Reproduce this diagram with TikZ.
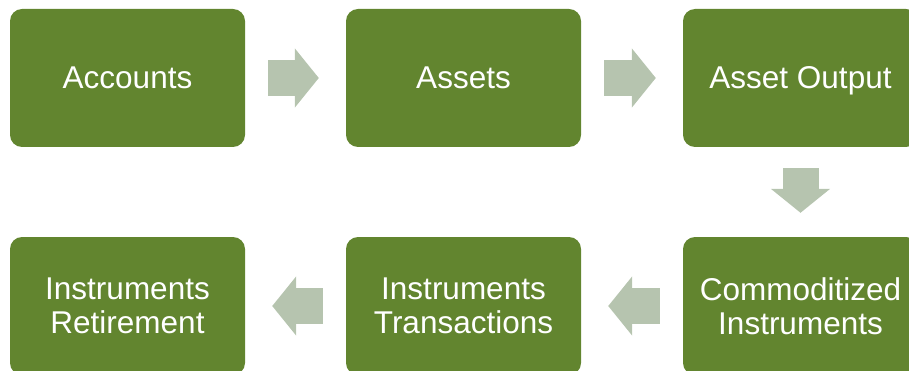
\documentclass[tikz,border=0pt]{standalone}
\usepackage{fontspec}
\setmainfont{Liberation Sans}
\usepackage{tikz}
\usetikzlibrary{arrows.meta}
\definecolor{boxgreen}{RGB}{98,133,47}
\definecolor{arrowgrey}{RGB}{182,196,175}

\begin{document}
\begin{tikzpicture}[x=1pt,y=-1pt,
  stage/.style={fill=boxgreen,draw=none,rounded corners=12pt,minimum width=235pt,minimum height=138pt,
    inner sep=0pt,text=white,align=center,font=\fontsize{31.5}{34}\selectfont},
  oneline/.style={text depth=0pt},
  flow/.style={draw=arrowgrey,line width=36pt,-{Triangle[length=24pt,width=58pt]},shorten <=23pt,shorten >=27pt}]
\useasboundingbox (0,0) rectangle (909,371);
\clip (0,0) rectangle (909,371);
\node[stage,oneline] (acc) at (127.5,78) {Accounts};
\node[stage,oneline] (ast) at (463.5,78) {Assets};
\node[stage,oneline] (out) at (800.5,78) {Asset Output};
\node[stage] (com) at (800.5,306) {Commoditized\\Instruments};
\node[stage] (trn) at (463.5,306) {Instruments\\Transactions};
\node[stage] (ret) at (127.5,306) {Instruments\\Retirement};
\draw[flow] (acc) -- (ast);
\draw[flow] (ast) -- (out);
\draw[flow,shorten <=21pt,shorten >=24pt] (out) -- (com);
\draw[flow] (com) -- (trn);
\draw[flow] (trn) -- (ret);
\end{tikzpicture}
\end{document}
